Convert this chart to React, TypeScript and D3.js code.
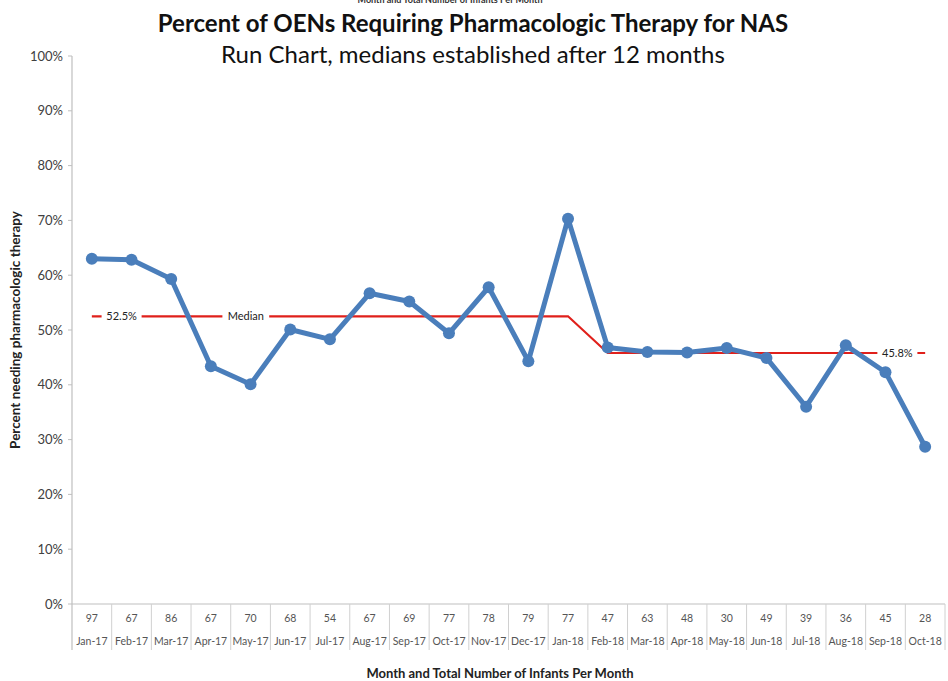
import React from "react";
import * as d3 from "d3";

const months = ["Jan-17","Feb-17","Mar-17","Apr-17","May-17","Jun-17","Jul-17","Aug-17","Sep-17","Oct-17","Nov-17","Dec-17","Jan-18","Feb-18","Mar-18","Apr-18","May-18","Jun-18","Jul-18","Aug-18","Sep-18","Oct-18"];
const counts = [97,67,86,67,70,68,54,67,69,77,78,79,77,47,63,48,30,49,39,36,45,28];
const percents = [63.0,62.8,59.3,43.4,40.1,50.1,48.3,56.7,55.2,49.4,57.8,44.3,70.3,46.8,46.0,45.9,46.7,44.9,36.0,47.2,42.3,28.7];
const medians = [52.5,52.5,52.5,52.5,52.5,52.5,52.5,52.5,52.5,52.5,52.5,52.5,52.5,45.8,45.8,45.8,45.8,45.8,45.8,45.8,45.8,45.8];
const yTicks = [0,10,20,30,40,50,60,70,80,90,100];
const medianLabels = [
  { text: "52.5%", at: 0.75, value: 52.5 },
  { text: "Median", at: 3.88, value: 52.5 },
  { text: "45.8%", at: 20.3, value: 45.8 },
];

const W = 948, H = 681;
const FONT = "Lato, 'Open Sans', sans-serif";

export default function App() {
  const x = d3.scaleBand<string>().domain(months).range([72, 945]);
  const bw = x.bandwidth();
  const cx = (i: number) => (x(months[0]) as number) + bw / 2 + i * bw;
  const y = d3.scaleLinear().domain([0, 100]).range([604, 56]);

  const line = d3.line<number>().x((_, i) => cx(i)).y((d) => y(d));
  const tableTop = y(0);
  const tableBottom = 650;

  return (
    <svg width={W} height={H} style={{ position: "absolute", left: 0, top: 0, background: "#fff" }} fontFamily={FONT}>
      <rect width={W} height={H} fill="#fff" />
      {/* cropped header text at top (cut off in the reference too) */}
      <text x={450} y={3} textAnchor="middle" fontSize={9} fontWeight="bold" fill="#333">Month and Total Number of Infants Per Month</text>
      {/* titles */}
      <text x={473} y={32} textAnchor="middle" fontSize={24} fontWeight="bold" fill="#111">Percent of OENs Requiring Pharmacologic Therapy for NAS</text>
      <text x={473} y={63} textAnchor="middle" fontSize={24} fill="#111">Run Chart, medians established after 12 months</text>

      {/* y axis */}
      <line x1={72} x2={72} y1={y(100)} y2={tableBottom} stroke="#bfbfbf" strokeWidth={1.2} />
      {yTicks.map((t) => (
        <g key={t}>
          <line x1={68} x2={72} y1={y(t)} y2={y(t)} stroke="#bfbfbf" />
          <text x={63} y={y(t) + 4.5} textAnchor="end" fontSize={13} fill="#404040">{t + "%"}</text>
        </g>
      ))}
      <text transform={`translate(20,${y(50)}) rotate(-90)`} textAnchor="middle" fontSize={13.5} fontWeight="bold" fill="#222">Percent needing pharmacologic therapy</text>

      {/* x axis / table */}
      <line x1={72} x2={945} y1={tableTop} y2={tableTop} stroke="#bfbfbf" strokeWidth={1.2} />
      {months.map((m, i) => (
        <g key={m}>
          <line x1={(x(m) as number) + bw} x2={(x(m) as number) + bw} y1={tableTop} y2={tableBottom} stroke="#d0d0d0" />
          <text x={cx(i)} y={622} textAnchor="middle" fontSize={10.5} fill="#555">{counts[i]}</text>
          <text x={cx(i)} y={645} textAnchor="middle" fontSize={10.5} fill="#555">{m}</text>
        </g>
      ))}
      <text x={500} y={678} textAnchor="middle" fontSize={13} fontWeight="bold" fill="#222">Month and Total Number of Infants Per Month</text>

      {/* median line */}
      <path d={line(medians) as string} fill="none" stroke="#e0201b" strokeWidth={2.2} />
      {medianLabels.map((l) => {
        const px = cx(0) + l.at * bw;
        const tw = l.text.length * 6.8;
        return (
          <g key={l.text}>
            <rect x={px - tw / 2 - 3} y={y(l.value) - 7} width={tw + 6} height={14} fill="#fff" />
            <text x={px} y={y(l.value) + 4} textAnchor="middle" fontSize={11} fill="#222">{l.text}</text>
          </g>
        );
      })}

      {/* data line */}
      <path d={line(percents) as string} fill="none" stroke="#4a7ebb" strokeWidth={5} strokeLinejoin="round" />
      {percents.map((p, i) => (
        <circle key={i} cx={cx(i)} cy={y(p)} r={6} fill="#4a7ebb" />
      ))}
    </svg>
  );
}
